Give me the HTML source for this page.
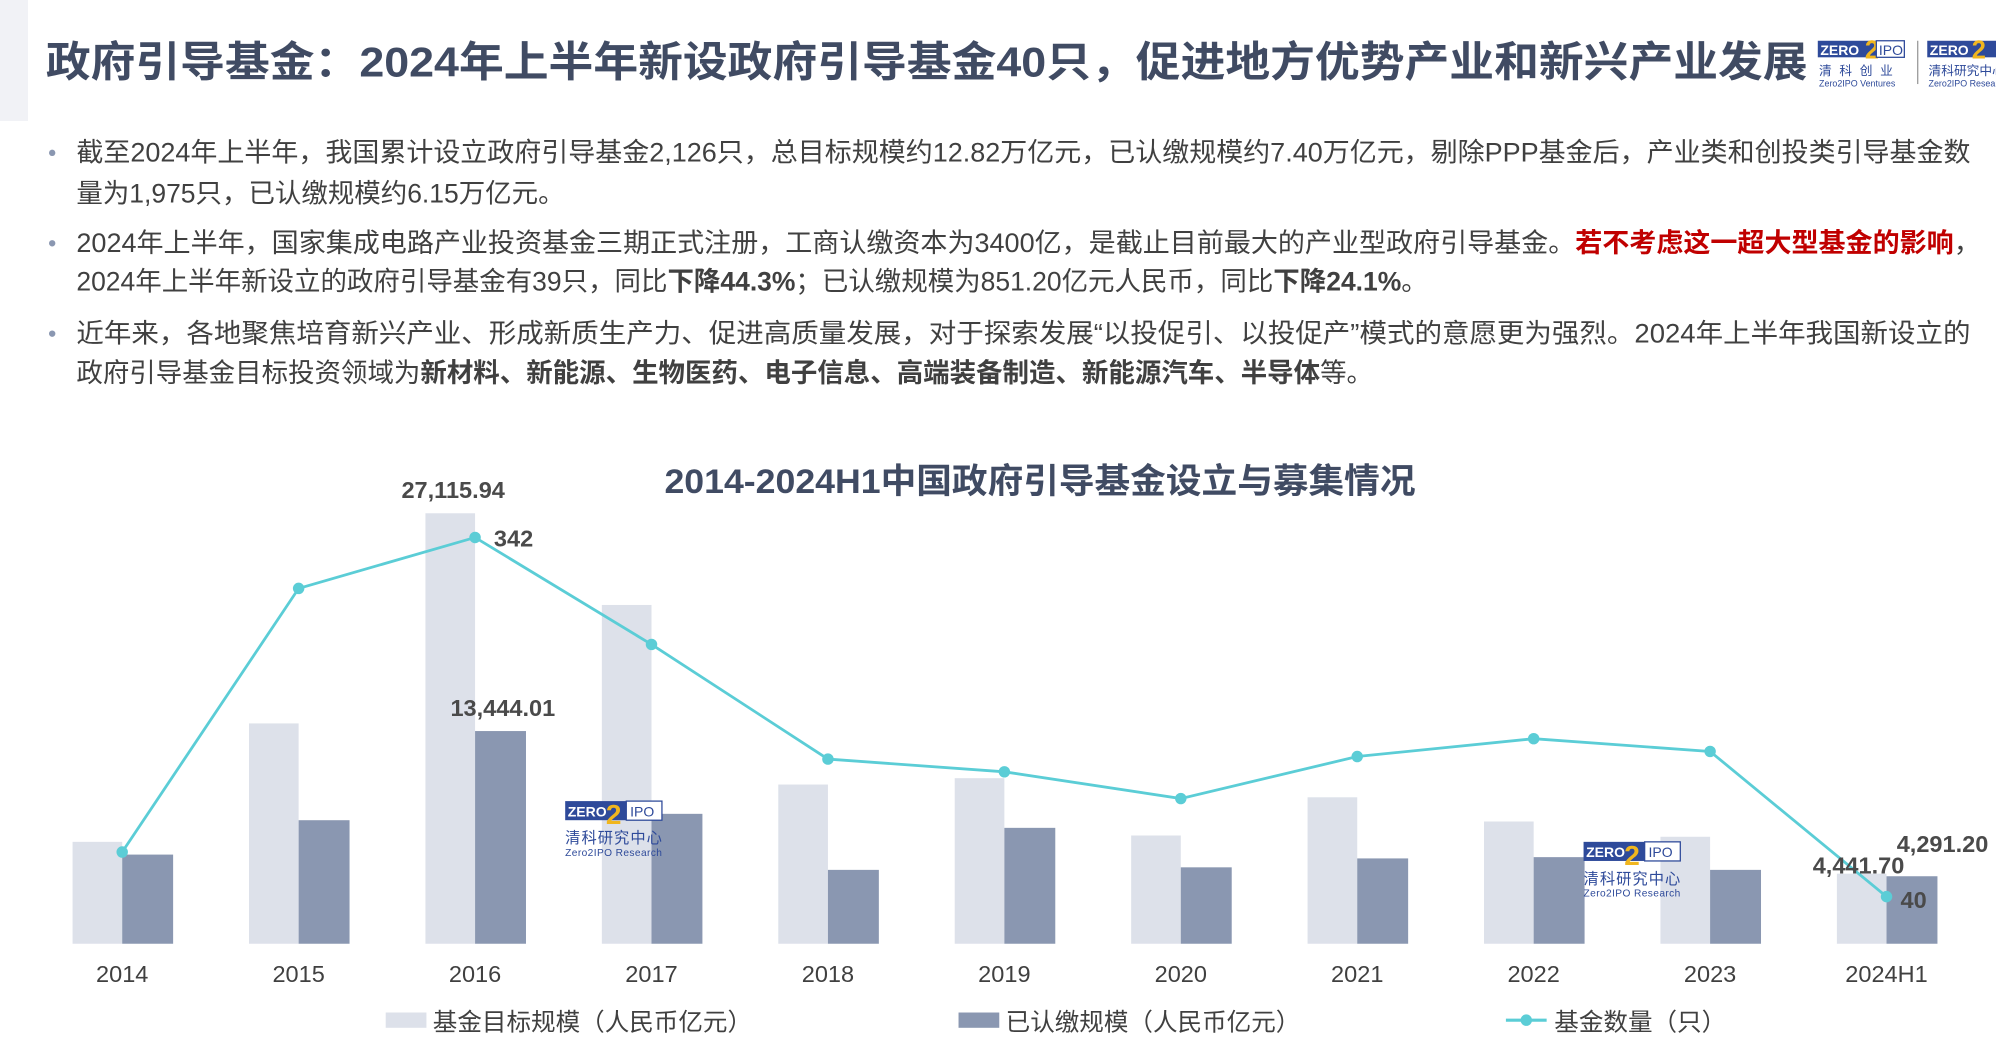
<!DOCTYPE html>
<html><head><meta charset="utf-8">
<style>
html,body{margin:0;padding:0;background:#fff;}
svg{display:block;}
text{font-family:"Liberation Sans","Noto Sans CJK SC",sans-serif;}
</style></head>
<body>
<svg width="1996" height="1052" viewBox="0 0 1568 826" preserveAspectRatio="none" xmlns="http://www.w3.org/2000/svg">
<rect x="0" y="0" width="1568" height="826" fill="#fff"/>
<rect x="0" y="0" width="22" height="95" fill="#f1f2f6"/>
<text x="36" y="60" font-size="33" font-weight="bold" fill="#404b63" textLength="1384" lengthAdjust="spacingAndGlyphs">政府引导基金：2024年上半年新设政府引导基金40只，促进地方优势产业和新兴产业发展</text>
<g>
<rect x="1428" y="32" width="68" height="13" fill="#2e4a9a"/>
<text x="1430" y="43" font-size="11" font-weight="bold" fill="#fff">ZERO</text>
<text x="1465" y="46" font-size="20" font-weight="bold" fill="#f0b61e">2</text>
<rect x="1474" y="32" width="22" height="13" fill="#fff" stroke="#2e4a9a" stroke-width="1"/>
<text x="1476" y="43" font-size="11" fill="#2e4a9a">IPO</text>
<text x="1429" y="59" font-size="10" fill="#2e4a9a" letter-spacing="6">清科创业</text>
<text x="1429" y="68" font-size="7" fill="#2e4a9a">Zero2IPO Ventures</text>
<rect x="1506" y="32" width="1" height="34" fill="#999"/>
<rect x="1514" y="32" width="54" height="13" fill="#2e4a9a"/>
<text x="1516" y="43" font-size="11" font-weight="bold" fill="#fff">ZERO</text>
<text x="1549" y="46" font-size="20" font-weight="bold" fill="#f0b61e">2</text>
<text x="1515" y="59" font-size="10" fill="#2e4a9a">清科研究中心</text>
<text x="1515" y="68" font-size="7" fill="#2e4a9a">Zero2IPO Research</text>
</g>
<g font-size="20.8" fill="#404040">
<circle cx="41" cy="120" r="2.5" fill="#8a97b1"/>
<text x="60" y="127" textLength="1488" lengthAdjust="spacingAndGlyphs">截至2024年上半年，我国累计设立政府引导基金2,126只，总目标规模约12.82万亿元，已认缴规模约7.40万亿元，剔除PPP基金后，产业类和创投类引导基金数</text>
<text x="60" y="159">量为1,975只，已认缴规模约6.15万亿元。</text>
<circle cx="41" cy="191" r="2.5" fill="#8a97b1"/>
<text x="60" y="198" textLength="1496" lengthAdjust="spacingAndGlyphs">2024年上半年，国家集成电路产业投资基金三期正式注册，工商认缴资本为3400亿，是截止目前最大的产业型政府引导基金。<tspan fill="#c00000" font-weight="bold">若不考虑这一超大型基金的影响</tspan>，</text>
<text x="60" y="228">2024年上半年新设立的政府引导基金有39只，同比<tspan font-weight="bold">下降44.3%</tspan>；已认缴规模为851.20亿元人民币，同比<tspan font-weight="bold">下降24.1%</tspan>。</text>
<circle cx="41" cy="262" r="2.5" fill="#8a97b1"/>
<text x="60" y="269" textLength="1488" lengthAdjust="spacingAndGlyphs">近年来，各地聚焦培育新兴产业、形成新质生产力、促进高质量发展，对于探索发展“以投促引、以投促产”模式的意愿更为强烈。2024年上半年我国新设立的</text>
<text x="60" y="300">政府引导基金目标投资领域为<tspan font-weight="bold">新材料、新能源、生物医药、电子信息、高端装备制造、新能源汽车、半导体</tspan>等。</text>
</g>
<text x="522" y="387" font-size="27" font-weight="bold" fill="#404b63" textLength="590" lengthAdjust="spacingAndGlyphs">2014-2024H1中国政府引导基金设立与募集情况</text>
<g fill="#dde1ea">
<rect x="57" y="661" width="39" height="80"/>
<rect x="195.6" y="568" width="39" height="173"/>
<rect x="334.2" y="403" width="39" height="338"/>
<rect x="472.8" y="475" width="39" height="266"/>
<rect x="611.4" y="616" width="39" height="125"/>
<rect x="750" y="611" width="39" height="130"/>
<rect x="888.6" y="656" width="39" height="85"/>
<rect x="1027.2" y="626" width="39" height="115"/>
<rect x="1165.8" y="645" width="39" height="96"/>
<rect x="1304.4" y="657" width="39" height="84"/>
<rect x="1443" y="686" width="39" height="55"/>
</g>
<g fill="#8a97b1">
<rect x="96" y="671" width="40" height="70"/>
<rect x="234.6" y="644" width="40" height="97"/>
<rect x="373.2" y="574" width="40" height="167"/>
<rect x="511.8" y="639" width="40" height="102"/>
<rect x="650.4" y="683" width="40" height="58"/>
<rect x="789" y="650" width="40" height="91"/>
<rect x="927.6" y="681" width="40" height="60"/>
<rect x="1066.2" y="674" width="40" height="67"/>
<rect x="1204.8" y="673" width="40" height="68"/>
<rect x="1343.4" y="683" width="40" height="58"/>
<rect x="1482" y="688" width="40" height="53"/>
</g>
<g>
<rect x="444" y="629" width="48" height="15" fill="#2e4a9a"/>
<text x="446" y="641" font-size="11" font-weight="bold" fill="#fff">ZERO</text>
<text x="476" y="647" font-size="22" font-weight="bold" fill="#f0b61e">2</text>
<rect x="492" y="629" width="28" height="15" fill="#fff" stroke="#2e4a9a"/>
<text x="495" y="641" font-size="11" fill="#2e4a9a">IPO</text>
<text x="444" y="662" font-size="12" fill="#2e4a9a" textLength="76">清科研究中心</text>
<text x="444" y="672" font-size="8" fill="#2e4a9a" textLength="76">Zero2IPO Research</text>
<rect x="1244" y="661" width="48" height="15" fill="#2e4a9a"/>
<text x="1246" y="673" font-size="11" font-weight="bold" fill="#fff">ZERO</text>
<text x="1276" y="679" font-size="22" font-weight="bold" fill="#f0b61e">2</text>
<rect x="1292" y="661" width="28" height="15" fill="#fff" stroke="#2e4a9a"/>
<text x="1295" y="673" font-size="11" fill="#2e4a9a">IPO</text>
<text x="1244" y="694" font-size="12" fill="#2e4a9a" textLength="76">清科研究中心</text>
<text x="1244" y="704" font-size="8" fill="#2e4a9a" textLength="76">Zero2IPO Research</text>
</g>
<polyline fill="none" stroke="#5bcdd6" stroke-width="2.2" points="96,669 234.6,462 373.2,422 511.8,506 650.4,596 789,606 927.6,627 1066.2,594 1204.8,580 1343.4,590 1482,704"/>
<g fill="#5bcdd6">
<circle cx="96" cy="669" r="4.5"/><circle cx="234.6" cy="462" r="4.5"/><circle cx="373.2" cy="422" r="4.5"/><circle cx="511.8" cy="506" r="4.5"/><circle cx="650.4" cy="596" r="4.5"/><circle cx="789" cy="606" r="4.5"/><circle cx="927.6" cy="627" r="4.5"/><circle cx="1066.2" cy="594" r="4.5"/><circle cx="1204.8" cy="580" r="4.5"/><circle cx="1343.4" cy="590" r="4.5"/><circle cx="1482" cy="704" r="4.5"/>
</g>
<g font-size="18.5" font-weight="bold" fill="#4a4a4a">
<text x="356" y="391" text-anchor="middle">27,115.94</text>
<text x="388" y="429">342</text>
<text x="395" y="562" text-anchor="middle">13,444.01</text>
<text x="1460" y="686" text-anchor="middle">4,441.70</text>
<text x="1526" y="669" text-anchor="middle">4,291.20</text>
<text x="1493" y="713">40</text>
</g>
<g font-size="18.5" fill="#404040" text-anchor="middle">
<text x="96" y="771">2014</text><text x="234.6" y="771">2015</text><text x="373.2" y="771">2016</text><text x="511.8" y="771">2017</text><text x="650.4" y="771">2018</text><text x="789" y="771">2019</text><text x="927.6" y="771">2020</text><text x="1066.2" y="771">2021</text><text x="1204.8" y="771">2022</text><text x="1343.4" y="771">2023</text><text x="1482" y="771">2024H1</text>
</g>
<g font-size="19.3" fill="#404040">
<rect x="303" y="795" width="32" height="12" fill="#dde1ea"/>
<text x="340" y="809">基金目标规模（人民币亿元）</text>
<rect x="753" y="795" width="32" height="12" fill="#8a97b1"/>
<text x="790" y="809">已认缴规模（人民币亿元）</text>
<line x1="1183" y1="801" x2="1215" y2="801" stroke="#5bcdd6" stroke-width="2.5"/>
<circle cx="1199" cy="801" r="4.5" fill="#5bcdd6"/>
<text x="1221" y="809">基金数量（只）</text>
</g>
</svg>
</body></html>
